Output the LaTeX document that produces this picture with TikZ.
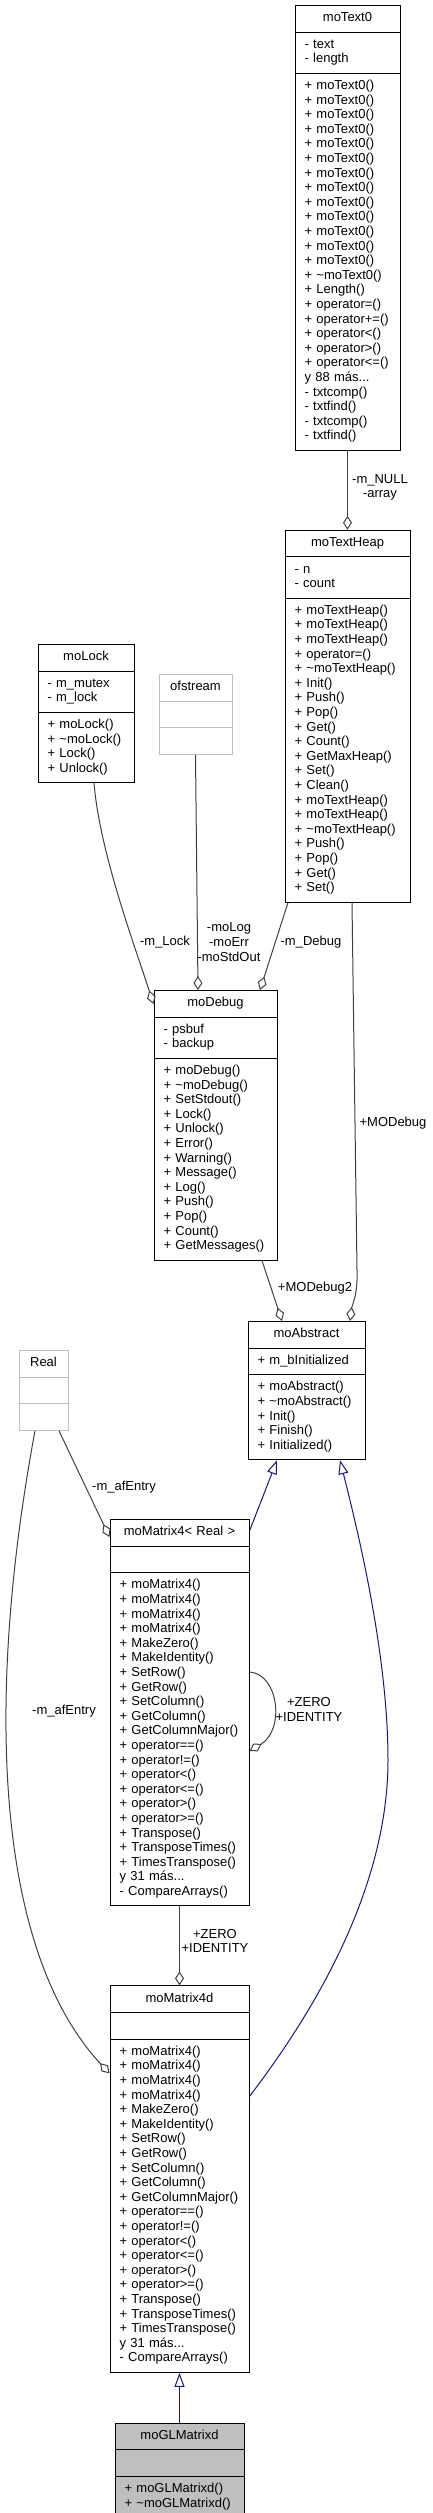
\documentclass[tikz,border=0pt]{standalone}
\usepackage{fontspec}
\setmainfont{Liberation Sans}
\usetikzlibrary{shapes, shapes.multipart, arrows.meta, positioning}
\definecolor{gris}{HTML}{404040}
\definecolor{grisclaro}{HTML}{BFBFBF}
\definecolor{azul}{HTML}{191970}
\newcommand{\letra}{\fontsize{13}{14.6}\selectfont}
\newcommand{\til}{\textasciitilde}
\newcommand{\titulo}[1]{\strut\hfill #1\hfill\null}
\newcommand{\metodosmatriz}{\strut + moMatrix4()\\ + moMatrix4()\\ + moMatrix4()\\ + moMatrix4()\\ + MakeZero()\\ + MakeIdentity()\\ + SetRow()\\ + GetRow()\\ + SetColumn()\\ + GetColumn()\\ + GetColumnMajor()\\ + operator==()\\ + operator!=()\\ + operator<()\\ + operator<=()\\ + operator>()\\ + operator>=()\\ + Transpose()\\ + TransposeTimes()\\ + TimesTranspose()\\ y 31 más...\\ - CompareArrays()\strut}
\tikzstyle{clase} = [rectangle split, rectangle split parts=3, draw=black, line width=1pt, fill=white, inner xsep=9.5pt, inner ysep=5.5pt, align=left, anchor=north, font=\letra]
\tikzstyle{externa} = [clase, draw=grisclaro]
\tikzstyle{usa} = [draw=gris, line width=1pt, -{Diamond[open, length=14pt, width=9pt]}]
\tikzstyle{hereda} = [draw=azul, line width=1pt, -{Triangle[open, length=14pt, width=10pt]}]
\tikzstyle{rotulo} = [font=\letra, align=center, inner sep=0pt]

\begin{document}
\begin{tikzpicture}[x=1pt, y=-1pt]
	\useasboundingbox (0,0) rectangle (433,2513);
	\node[clase, text width=86pt] (texto0) at (347.5,5) {\titulo{moText0}
		\nodepart{second}\strut - text\\ - length\strut
		\nodepart{third}\strut + moText0()\\ + moText0()\\ + moText0()\\ + moText0()\\ + moText0()\\ + moText0()\\ + moText0()\\ + moText0()\\ + moText0()\\ + moText0()\\ + moText0()\\ + moText0()\\ + moText0()\\ + \til moText0()\\ + Length()\\ + operator=()\\ + operator+=()\\ + operator<()\\ + operator>()\\ + operator<=()\\ y 88 más...\\ - txtcomp()\\ - txtfind()\\ - txtcomp()\\ - txtfind()\strut};
	\node[clase, text width=106pt, below=79pt of texto0] (heap) {\titulo{moTextHeap}
		\nodepart{second}\strut - n\\ - count\strut
		\nodepart{third}\strut + moTextHeap()\\ + moTextHeap()\\ + moTextHeap()\\ + operator=()\\ + \til moTextHeap()\\ + Init()\\ + Push()\\ + Pop()\\ + Get()\\ + Count()\\ + GetMaxHeap()\\ + Set()\\ + Clean()\\ + moTextHeap()\\ + moTextHeap()\\ + \til moTextHeap()\\ + Push()\\ + Pop()\\ + Get()\\ + Set()\strut};
	\node[clase, text width=77pt] (lock) at (86,644) {\titulo{moLock}
		\nodepart{second}\strut - m\_mutex\\ - m\_lock\strut
		\nodepart{third}\strut + moLock()\\ + \til moLock()\\ + Lock()\\ + Unlock()\strut};
	\node[externa, text width=54pt] (stream) at (195.5,674) {\titulo{ofstream}\nodepart{second}\strut\nodepart{third}\strut};
	\node[clase, text width=104pt] (debug) at (215.5,990) {\titulo{moDebug}
		\nodepart{second}\strut - psbuf\\ - backup\strut
		\nodepart{third}\strut + moDebug()\\ + \til moDebug()\\ + SetStdout()\\ + Lock()\\ + Unlock()\\ + Error()\\ + Warning()\\ + Message()\\ + Log()\\ + Push()\\ + Pop()\\ + Count()\\ + GetMessages()\strut};
	\node[clase, text width=98pt] (abstracto) at (306.5,1321) {\titulo{moAbstract}
		\nodepart{second}\strut + m\_bInitialized\strut
		\nodepart{third}\strut + moAbstract()\\ + \til moAbstract()\\ + Init()\\ + Finish()\\ + Initialized()\strut};
	\node[externa, text width=30pt] (real) at (43.5,1350) {\titulo{Real}\nodepart{second}\strut\nodepart{third}\strut};
	\node[clase, text width=120pt] (matriz4) at (179.5,1519) {\titulo{moMatrix4< Real >}
		\nodepart{second}\strut
		\nodepart{third}\metodosmatriz};
	\node[clase, text width=120pt, below=79pt of matriz4] (matriz4d) {\titulo{moMatrix4d}
		\nodepart{second}\strut
		\nodepart{third}\metodosmatriz};
	\node[clase, text width=110pt, fill=grisclaro, below=50pt of matriz4d] (glmatriz) {\titulo{moGLMatrixd}
		\nodepart{second}\strut
		\nodepart{third}\strut + moGLMatrixd()\\ + \til moGLMatrixd()\strut};

	\draw[usa] (texto0.south) -- (heap.north);
	\draw[usa] ([xshift=8pt]lock.south) .. controls +(6,70) and +(-19,-59) .. ([yshift=-14pt]debug.north west);
	\draw[usa] (stream.south) -- ([xshift=-17.5pt]debug.north);
	\draw[usa] ([xshift=-59.5pt]heap.south) -- ([xshift=44.5pt]debug.north);
	\draw[usa] ([xshift=4.5pt]heap.south) -- (357,1270) .. controls (358,1295) and (352,1305) .. ([xshift=43.5pt]abstracto.north);
	\draw[usa] ([xshift=46.5pt]debug.south) -- ([xshift=-24.5pt]abstracto.north);
	\draw[usa] ([xshift=15.5pt]real.south) -- ([yshift=-18pt]matriz4.north west);
	\draw[usa] ([xshift=-8.5pt]real.south) .. controls (-15,1700) and (-5,1950) .. ([yshift=-88pt]matriz4d.north west);
	\draw[usa] ([yshift=-153pt]matriz4.north east) .. controls (279,1674) and (285,1730) .. ([yshift=-232pt]matriz4.north east);
	\draw[usa] (matriz4.south) -- (matriz4d.north);
	\draw[hereda] ([yshift=-12pt]matriz4.north east) -- ([xshift=-29.5pt]abstracto.south);
	\draw[hereda] ([yshift=-111pt]matriz4d.north east) .. controls (300,2030) and (388,1900) .. (388,1760) .. controls (388,1650) and (355,1520) .. ([xshift=33.5pt]abstracto.south);
	\draw[hereda] (glmatriz.north) -- (matriz4d.south);

	\node[rotulo] (lblnull) at (380,487.5) {-m\_NULL\\-array};
	\node[rotulo] (lbllock) at (165,942) {-m\_Lock};
	\node[rotulo] (lblstream) at (229,942) {-moLog\\-moErr\\-moStdOut};
	\node[rotulo] (lbldebug) at (311,942) {-m\_Debug};
	\node[rotulo] (lblmodebug) at (393,1123) {+MODebug};
	\node[rotulo] (lblmodebug2) at (315,1288) {+MODebug2};
	\node[rotulo] (lblentry) at (124,1487) {-m\_afEntry};
	\node[rotulo] (lblentryd) at (64,1711) {-m\_afEntry};
	\node[rotulo] (lblzero) at (309,1709.5) {+ZERO\\+IDENTITY};
	\node[rotulo] (lblzerod) at (215,1941) {+ZERO\\+IDENTITY};
\end{tikzpicture}
\end{document}
